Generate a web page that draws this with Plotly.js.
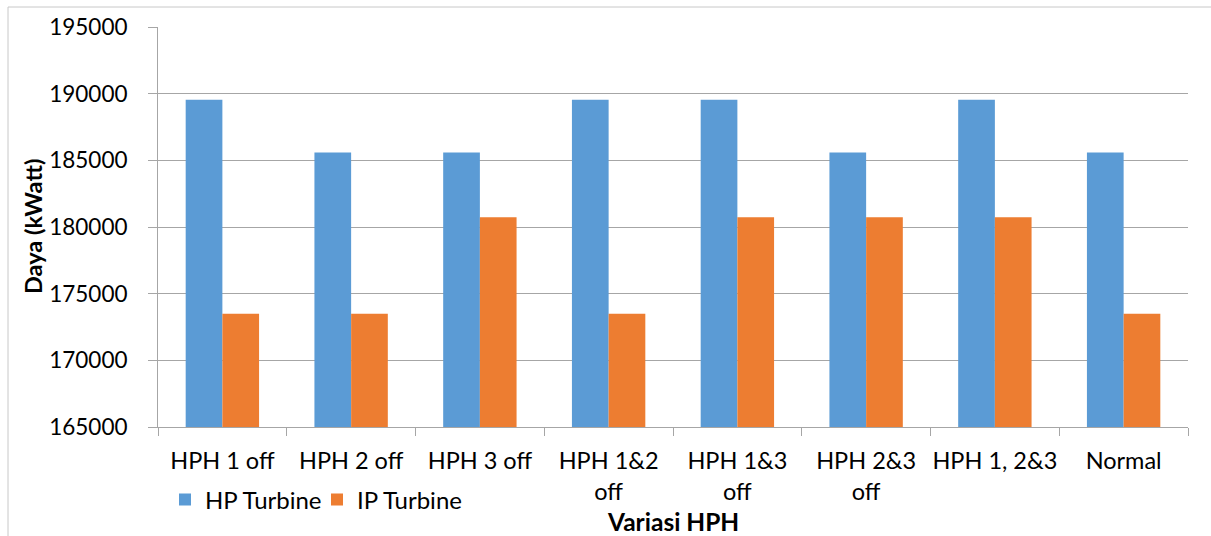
<!DOCTYPE html>
<html>
<head>
<meta charset="utf-8">
<script src="https://cdn.plot.ly/plotly-3.0.1.min.js"></script>
<style>html,body{margin:0;padding:0;background:#fff;}#chart{width:1211px;height:536px;}</style>
</head>
<body>
<div id="chart"></div>
<script>
var categories = ["HPH 1 off", "HPH 2 off", "HPH 3 off", "HPH 1&2<br>off", "HPH 1&3<br>off", "HPH 2&3<br>off", "HPH 1, 2&3", "Normal"];
var hpTurbine = [189550, 185580, 185580, 189550, 189550, 185580, 189550, 185580];
var ipTurbine = [173500, 173500, 180730, 173500, 180730, 180730, 180730, 173500];
var yTicks = [165000, 170000, 175000, 180000, 185000, 190000, 195000];

var font = "Lato, 'Open Sans', sans-serif";
var data = [
  {type: "bar", name: "HP Turbine", x: categories, y: hpTurbine, marker: {color: "#5B9BD5"}},
  {type: "bar", name: "IP Turbine", x: categories, y: ipTurbine, marker: {color: "#ED7D31"}}
];
var layout = {
  width: 1211, height: 536,
  margin: {l: 158, r: 23, t: 27, b: 109},
  paper_bgcolor: "#fff", plot_bgcolor: "#fff",
  font: {family: font, size: 22, color: "#000"},
  barmode: "group", bargap: 0.43, bargroupgap: 0,
  showlegend: true,
  legend: {orientation: "h", x: (165-158)/1030, xanchor: "left", y: -0.1825, yanchor: "middle",
           entrywidth: 107, entrywidthmode: "pixels",
           font: {family: font, size: 24, color: "#000"}, bgcolor: "rgba(0,0,0,0)"},
  xaxis: {
    type: "category", tickson: "boundaries", ticks: "outside", ticklen: 8, tickcolor: "#a6a6a6",
    tickangle: 0,
    showline: true, linecolor: "#a6a6a6", linewidth: 1, showgrid: false, zeroline: false,
    tickfont: {family: font, size: 23.5, color: "#000"}, ticklabelstandoff: 13, automargin: false
  },
  yaxis: {
    range: [165000, 195000], tickvals: yTicks, ticktext: yTicks.map(String),
    ticks: "outside", ticklen: 9, tickcolor: "#a6a6a6",
    showline: true, linecolor: "#a6a6a6", linewidth: 1,
    showgrid: true, gridcolor: "#a6a6a6", gridwidth: 1.3, zeroline: false,
    tickfont: {family: font, size: 22.5, color: "#000"}, ticklabelstandoff: 16, automargin: false
  },
  annotations: [
    {text: "<b>Daya (kWatt)</b>", xref: "paper", yref: "paper", x: (33-158)/1030, y: 0.5, textangle: -90,
     showarrow: false, xanchor: "center", yanchor: "middle", font: {family: font, size: 23.5, color: "#000"}},
    {text: "<b>Variasi HPH</b>", xref: "paper", yref: "paper", x: 0.5, y: -0.235,
     showarrow: false, xanchor: "center", yanchor: "middle", font: {family: font, size: 24.5, color: "#000"}}
  ],
  shapes: [
    {type: "line", xref: "paper", yref: "paper", x0: (8-158)/1030, x1: (8-158)/1030, y0: (427-7)/400, y1: (427-540)/400,
     line: {color: "#c8c8c8", width: 1}},
    {type: "line", xref: "paper", yref: "paper", x0: (8-158)/1030, x1: (1215-158)/1030, y0: (427-7)/400, y1: (427-7)/400,
     line: {color: "#c8c8c8", width: 1}}
  ]
};
Plotly.newPlot("chart", data, layout, {displayModeBar: false, responsive: false});
</script>
</body>
</html>
